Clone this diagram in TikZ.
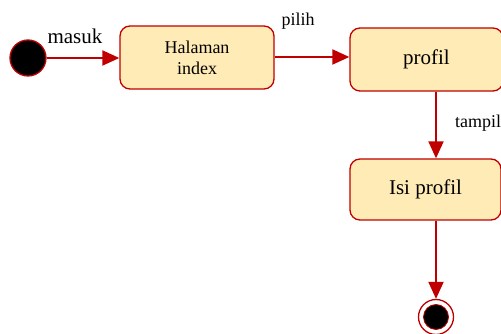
\documentclass[tikz,border=0pt]{standalone}
\usepackage{fontspec}
\setmainfont{Liberation Serif}
\usetikzlibrary{arrows.meta}
\definecolor{umlred}{HTML}{C00000}
\definecolor{umlfill}{HTML}{FFEBB6}
\tikzset{
  state/.style={draw=umlred, line width=1.3pt, fill=umlfill, rounded corners=10pt,
    align=center, inner sep=0pt},
  initial/.style={circle, draw=umlred, line width=1.3pt, fill=black, minimum size=36pt, inner sep=0pt},
  final/.style={circle, draw=umlred, line width=1.3pt, fill=white, minimum size=35pt, inner sep=0pt},
  finaldot/.style={circle, draw=umlred, line width=0.8pt, fill=black, minimum size=25pt, inner sep=0pt},
  flow/.style={draw=umlred, line width=2pt, -{Triangle[length=17pt,width=15pt]}},
  lbl/.style={inner sep=0pt, font=\fontsize{18}{20}\selectfont},
}
\begin{document}
\begin{tikzpicture}[x=1pt,y=1pt]
  \useasboundingbox (0,0) rectangle (501,334);
  % states
  \node[initial] (start) at (28,276) {};
  \node[state, minimum width=154pt, minimum height=63pt, font=\fontsize{18}{21}\selectfont]
    (idx) at (197,276.5) {Halaman\\index};
  \node[state, minimum width=153pt, minimum height=63pt, font=\fontsize{21}{24}\selectfont]
    (prof) at (426.5,274.5) {profil};
  \node[state, minimum width=151pt, minimum height=61pt, font=\fontsize{21}{24}\selectfont]
    (isi) at (425.5,144.5) {Isi profil};
  \node[final] (end) at (436,17) {};
  \node[finaldot] (enddot) at (end) {};
  % transitions
  \draw[flow] (start.east) -- (start.east -| idx.west);
  \draw[flow] (idx.east |- 0,277) -- (prof.west |- 0,277);
  \draw[flow] (prof.south -| end) -- (isi.north -| end);
  \draw[flow] (isi.south -| end) -- (end.north);
  % labels
  \node[lbl, font=\fontsize{21}{24}\selectfont] (lmasuk) at (75,298) {masuk};
  \node[lbl] (lpilih) at (298,313) {pilih};
  \node[lbl, anchor=west] (ltampil) at (455,211) {tampil};
\end{tikzpicture}
\end{document}
